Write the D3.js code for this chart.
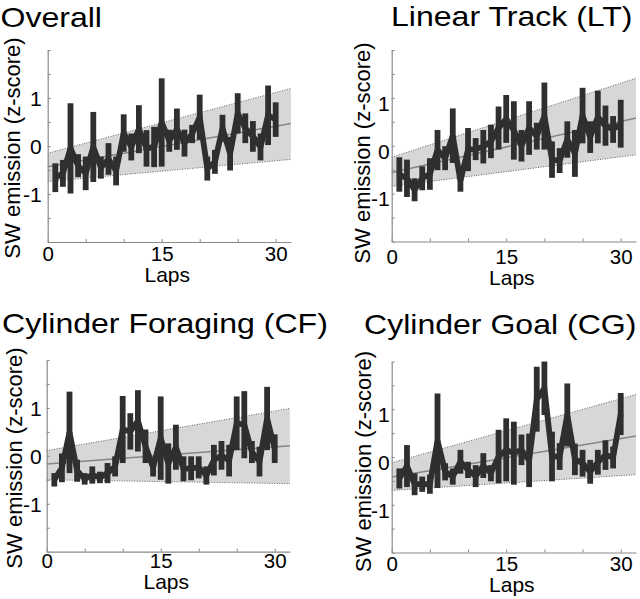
<!DOCTYPE html>
<html><head><meta charset="utf-8">
<script src="https://cdn.jsdelivr.net/npm/d3@7"></script>
<style>
body{margin:0;background:#fff}
svg{display:block}
text{font-family:"Liberation Sans",Arial,Helvetica,sans-serif;fill:#000}
</style>
</head><body>
<svg id="c" width="640" height="599"></svg>
<script>
// ---------- data ----------
const titles = ["Overall", "Linear Track (LT)", "Cylinder Foraging (CF)", "Cylinder Goal (CG)"];
const laps = [1,2,3,4,5,6,7,8,9,10,11,12,13,14,15,16,17,18,19,20,21,22,23,24,25,26,27,28,29,30];

const overallMean = [-0.66,-0.57,-0.05,-0.41,-0.57,-0.02,-0.45,-0.27,-0.52,0.27,-0.02,0.35,-0.05,-0.02,0.49,0.11,0.35,0.06,0.25,0.60,-0.47,-0.33,0.37,-0.16,0.68,0.37,0.20,-0.02,0.64,0.55];
const overallErr  = [0.30,0.28,0.94,0.24,0.35,0.73,0.23,0.33,0.30,0.39,0.28,0.50,0.38,0.42,0.92,0.23,0.43,0.28,0.19,0.47,0.25,0.25,0.28,0.35,0.42,0.31,0.32,0.28,0.62,0.36];

const ltMean = [-0.60,-0.68,-0.92,-0.68,-0.59,-0.09,-0.26,0.21,-0.73,-0.08,-0.07,-0.02,0.09,0.37,0.56,0.32,0.00,0.37,0.20,0.62,-0.29,-0.31,0.13,-0.16,0.63,0.18,0.60,0.42,0.34,0.46];
const ltErr  = [0.36,0.39,0.24,0.25,0.33,0.42,0.25,0.57,0.23,0.45,0.23,0.35,0.35,0.45,0.50,0.61,0.33,0.56,0.28,0.70,0.38,0.26,0.38,0.49,0.58,0.33,0.55,0.42,0.28,0.50];

const cfMean = [-0.50,-0.25,0.49,-0.31,-0.48,-0.40,-0.45,-0.36,-0.22,0.55,0.51,0.73,0.20,-0.24,0.37,-0.16,0.18,-0.27,-0.26,-0.24,-0.41,-0.09,0.01,-0.10,0.68,0.65,0.08,-0.12,0.78,0.15];
const cfErr  = [0.14,0.30,0.85,0.23,0.12,0.18,0.12,0.21,0.21,0.70,0.38,0.64,0.35,0.19,0.87,0.42,0.47,0.26,0.25,0.23,0.19,0.32,0.30,0.33,0.56,0.70,0.23,0.31,0.66,0.30];

const cgMean = [-0.45,-0.19,-0.57,-0.57,-0.57,0.34,-0.31,-0.41,-0.10,-0.27,-0.40,-0.18,-0.34,0.01,0.15,0.08,0.15,-0.07,1.21,1.44,0.01,0.01,0.88,-0.05,-0.13,-0.31,-0.11,0.04,-0.01,0.90];
const cgErr  = [0.21,0.44,0.23,0.16,0.20,0.99,0.18,0.17,0.25,0.17,0.23,0.26,0.17,0.56,0.66,0.66,0.32,0.56,0.68,0.56,0.52,0.28,0.66,0.33,0.28,0.25,0.26,0.31,0.23,0.44];

// regression fit and confidence band, at lap 0 and lap 32
const fitLaps = [0, 32];
const overallFitMid = [-0.43, 0.47], overallFitHi = [-0.15, 1.20], overallFitLo = [-0.74, -0.28];
const ltFitMid = [-0.56, 0.58], ltFitHi = [-0.24, 1.41], ltFitLo = [-0.85, -0.19];
const cfFitMid = [-0.17, 0.21], cfFitHi = [0.11, 0.99], cfFitLo = [-0.50, -0.58];
const cgFitMid = [-0.42, 0.44], cgFitHi = [-0.12, 1.31], cgFitLo = [-0.70, -0.37];

const xDomain = [0, 32], yDomain = [-2, 2];
const xTicks = [0,5,10,15,20,25,30], xTickLabels = [0,15,30];
const yTicks = [-2,-1.5,-1,-0.5,0,0.5,1,1.5,2], yTickLabels = [-1,0,1];
const yLabel = "SW emission (z-score)", xLabel = "Laps";

// ---------- layout ----------
const panels = [
  {title:titles[0], mean:overallMean, err:overallErr, mid:overallFitMid, hi:overallFitHi, lo:overallFitLo,
   L:47.7, R:290.9, T:50, B:242, tx:0.5, ty:27, ylx:20, yly:148, ytdx:-6, ytdy:0, xtdy:19, lapsY:282},
  {title:titles[1], mean:ltMean, err:ltErr, mid:ltFitMid, hi:ltFitHi, lo:ltFitLo,
   L:391.7, R:636, T:50, B:241.5, tx:391, ty:25.5, ylx:370, yly:153, ytdx:-2, ytdy:5, xtdy:22.5, lapsY:285},
  {title:titles[2], mean:cfMean, err:cfErr, mid:cfFitMid, hi:cfFitHi, lo:cfFitLo,
   L:46.7, R:289.9, T:360, B:551.7, tx:2, ty:333, ylx:21.5, yly:458, ytdx:-5, ytdy:0, xtdy:16.5, lapsY:589},
  {title:titles[3], mean:cgMean, err:cgErr, mid:cgFitMid, hi:cgFitHi, lo:cgFitLo,
   L:391.7, R:636, T:361.5, B:552.5, tx:364, ty:334, ylx:371, yly:461.5, ytdx:-2, ytdy:5, xtdy:18.5, lapsY:592}
];

const svg = d3.select("#c");
const DARK = "#2f2f2f", AXIS = "#8a8a8a";

panels.forEach(p => {
  const g = svg.append("g");
  const x = d3.scaleLinear().domain(xDomain).range([p.L, p.R]);
  const y = d3.scaleLinear().domain(yDomain).range([p.B, p.T]);

  // confidence band
  const band = fitLaps.map((l, i) => ({l, hi:p.hi[i], lo:p.lo[i], mid:p.mid[i]}));
  g.append("path").datum(band)
    .attr("d", d3.area().x(d => x(d.l)).y0(d => y(d.lo)).y1(d => y(d.hi)))
    .attr("fill", "#d7d7d7");
  ["hi","lo"].forEach(k => {
    g.append("path").datum(band)
      .attr("d", d3.line().x(d => x(d.l)).y(d => y(d[k])))
      .attr("fill","none").attr("stroke","#555").attr("stroke-width",0.9)
      .attr("stroke-dasharray","1,1.5");
  });
  g.append("path").datum(band)
    .attr("d", d3.line().x(d => x(d.l)).y(d => y(d.mid)))
    .attr("fill","none").attr("stroke","#858585").attr("stroke-width",1.5);

  // axes
  const xa = g.append("g").attr("transform", `translate(0,${p.B})`)
    .call(d3.axisBottom(x).tickValues(xTicks).tickSize(-3).tickSizeOuter(0)
      .tickFormat(d => xTickLabels.includes(d) ? String(d) : ""));
  xa.selectAll("text").attr("y", p.xtdy).attr("dy", null).attr("font-size", 20.5)
    .attr("font-family", null).attr("fill", "#000");
  const ya = g.append("g").attr("transform", `translate(${p.L},0)`)
    .call(d3.axisLeft(y).tickValues(yTicks).tickSize(-3).tickSizeOuter(0)
      .tickFormat(d => yTickLabels.includes(d) ? String(d) : ""));
  ya.selectAll("text").attr("x", p.ytdx).attr("y", p.ytdy).attr("dy", "0.35em")
    .attr("font-size", 21).attr("font-family", null).attr("fill", "#000");
  [xa, ya].forEach(a => {
    a.attr("font-family", null);
    a.select(".domain").attr("stroke", AXIS).attr("stroke-width", 1.2);
    a.selectAll(".tick line").attr("stroke", AXIS);
  });

  // data line
  g.append("path").datum(laps)
    .attr("d", d3.line().x(d => x(d)).y((d, i) => y(p.mean[i])))
    .attr("fill","none").attr("stroke",DARK).attr("stroke-width",5.8)
    .attr("stroke-linejoin","miter");
  // error bars
  g.selectAll("line.eb").data(laps).join("line").attr("class","eb")
    .attr("x1", d => x(d)).attr("x2", d => x(d))
    .attr("y1", (d, i) => y(p.mean[i] - p.err[i]))
    .attr("y2", (d, i) => y(p.mean[i] + p.err[i]))
    .attr("stroke", DARK).attr("stroke-width", 5.8);

  // texts
  svg.append("text").text(p.title)
    .attr("transform", `translate(${p.tx},${p.ty}) scale(1.145,1)`)
    .attr("font-size", 28);
  svg.append("text").text(yLabel)
    .attr("transform", `translate(${p.ylx},${p.yly}) rotate(-90)`)
    .attr("text-anchor","middle").attr("font-size", 22);
  svg.append("text").text(xLabel)
    .attr("x", (p.L + p.R) / 2 - 2).attr("y", p.lapsY)
    .attr("text-anchor","middle").attr("font-size", 21);
});
</script>
</body></html>
